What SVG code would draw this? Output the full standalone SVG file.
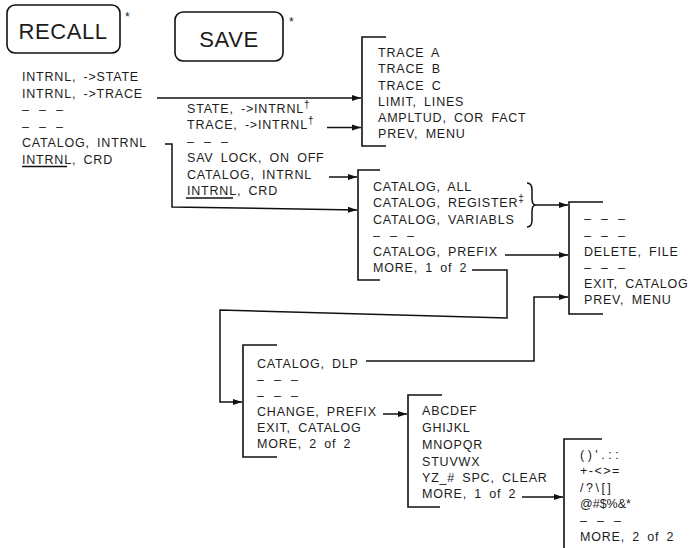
<svg xmlns="http://www.w3.org/2000/svg" width="700" height="548" viewBox="0 0 700 548">
<style>
.t{font-family:"Liberation Sans",Arial,sans-serif;font-size:12.5px;letter-spacing:0.8px;word-spacing:3px;fill:#1c1c1c}
.big{font-size:22px;letter-spacing:0.6px}
.sup{font-size:10px}
.ast{font-size:12px}
.dash{word-spacing:5px}
.ln{fill:none;stroke:#111;stroke-width:1.5}
.br{fill:none;stroke:#111;stroke-width:1.6}
.box{fill:none;stroke:#111;stroke-width:1.6}
.ar{marker-end:url(#ah)}
</style>
<defs>
<marker id="ah" markerUnits="userSpaceOnUse" markerWidth="10" markerHeight="8" refX="9" refY="4" orient="auto">
<path d="M0,1 L9,4 L0,7 z" fill="#111"/>
</marker>
</defs>
<rect width="700" height="548" fill="#fff"/>

<g id="recall">
<rect class="box" x="7" y="5" width="113" height="48" rx="8"/>
<text class="t big" x="63" y="39" text-anchor="middle">RECALL</text>
<text class="t ast" x="125" y="21">*</text>
</g>

<g id="save">
<rect class="box" x="175" y="12" width="108" height="49" rx="8"/>
<text class="t big" x="229" y="47" text-anchor="middle">SAVE</text>
<text class="t ast" x="289" y="26">*</text>
</g>

<g id="recall-menu">
<text class="t" x="22" y="81">INTRNL, -&gt;STATE</text>
<text class="t" x="22" y="97.5">INTRNL, -&gt;TRACE</text>
<text class="t dash" x="22" y="114">– – –</text>
<text class="t dash" x="22" y="130.5">– – –</text>
<text class="t" x="22" y="147">CATALOG, INTRNL</text>
<text class="t" x="22" y="163.5">INTRNL, CRD</text>
<line class="ln" x1="22" y1="166.5" x2="67" y2="166.5" stroke-width="1"/>
</g>

<g id="save-menu">
<text class="t" x="187" y="112.5">STATE, -&gt;INTRNL<tspan class="sup" dy="-5">†</tspan></text>
<text class="t" x="187" y="129">TRACE, -&gt;INTRNL<tspan class="sup" dy="-5">†</tspan></text>
<text class="t dash" x="187" y="145.5">– – –</text>
<text class="t" x="187" y="162">SAV LOCK, ON OFF</text>
<text class="t" x="187" y="178.5">CATALOG, INTRNL</text>
<text class="t" x="187" y="195">INTRNL, CRD</text>
<line class="ln" x1="186" y1="198" x2="233" y2="198" stroke-width="1"/>
</g>

<g id="trace-menu">
<path class="br" d="M386,37 H362 V146 H386"/>
<text class="t" x="378" y="57">TRACE A</text>
<text class="t" x="378" y="73">TRACE B</text>
<text class="t" x="378" y="89.5">TRACE C</text>
<text class="t" x="378" y="105.5">LIMIT, LINES</text>
<text class="t" x="378" y="122">AMPLTUD, COR FACT</text>
<text class="t" x="378" y="138">PREV, MENU</text>
</g>

<g id="catalog-menu">
<path class="br" d="M380,170 H358 V280 H380"/>
<text class="t" x="373" y="190.5">CATALOG, ALL</text>
<text class="t" x="373" y="207">CATALOG, REGISTER<tspan class="sup" dy="-5">‡</tspan></text>
<text class="t" x="373" y="223.5">CATALOG, VARIABLS</text>
<text class="t dash" x="373" y="240">– – –</text>
<text class="t" x="373" y="256">CATALOG, PREFIX</text>
<text class="t" x="373" y="272">MORE, 1 of 2</text>
<path class="ln" d="M527,183 Q532,183 532,190 V199 Q532,205 536,205 Q532,205 532,211 V220 Q532,227 527,227" stroke-width="1.2"/>
</g>

<g id="file-menu">
<path class="br" d="M603,202 H569 V314 H603"/>
<text class="t dash" x="584" y="223">– – –</text>
<text class="t dash" x="584" y="239.5">– – –</text>
<text class="t" x="584" y="256">DELETE, FILE</text>
<text class="t dash" x="584" y="272">– – –</text>
<text class="t" x="584" y="288">EXIT, CATALOG</text>
<text class="t" x="584" y="304">PREV, MENU</text>
</g>

<g id="catalog2-menu">
<path class="br" d="M277,345 H243 V457 H277"/>
<text class="t" x="257" y="367.5">CATALOG, DLP</text>
<text class="t dash" x="257" y="383.5">– – –</text>
<text class="t dash" x="257" y="399.5">– – –</text>
<text class="t" x="257" y="415.5">CHANGE, PREFIX</text>
<text class="t" x="257" y="432">EXIT, CATALOG</text>
<text class="t" x="257" y="448">MORE, 2 of 2</text>
</g>

<g id="prefix-menu">
<path class="br" d="M442,395 H408 V507 H440"/>
<text class="t" x="422" y="415">ABCDEF</text>
<text class="t" x="422" y="432">GHIJKL</text>
<text class="t" x="422" y="449">MNOPQR</text>
<text class="t" x="422" y="465.5">STUVWX</text>
<text class="t" x="422" y="482">YZ_# SPC, CLEAR</text>
<text class="t" x="422" y="498">MORE, 1 of 2</text>
</g>

<g id="chars-menu">
<path class="br" d="M602,439 H564 V548"/>
<text class="t" x="580" y="459" style="letter-spacing:3.5px">()'.::</text>
<text class="t" x="580" y="475" style="letter-spacing:1.5px">+-&lt;&gt;=</text>
<text class="t" x="580" y="492" style="letter-spacing:2.5px">/?\[]</text>
<text class="t" x="580" y="508" style="letter-spacing:0px">@#$%&amp;*</text>
<text class="t dash" x="580" y="525">– – –</text>
<text class="t" x="580" y="541">MORE, 2 of 2</text>
</g>

<g id="connectors">
<path class="ln ar" d="M157,98 H361"/>
<path class="ln ar" d="M327,127.5 H361"/>
<path class="ln ar" d="M329,177 H357"/>
<path class="ln ar" d="M165,144 H172 V207 L357,210"/>
<path class="ln ar" d="M536,205 H568"/>
<path class="ln ar" d="M505,255 H568"/>
<path class="ln ar" d="M472,270 H507 V318 L220,310 V402 H242"/>
<path class="ln ar" d="M366,361 H534 V297 H568"/>
<path class="ln ar" d="M383,414 H407"/>
<path class="ln ar" d="M522,497 H563"/>
</g>
</svg>
